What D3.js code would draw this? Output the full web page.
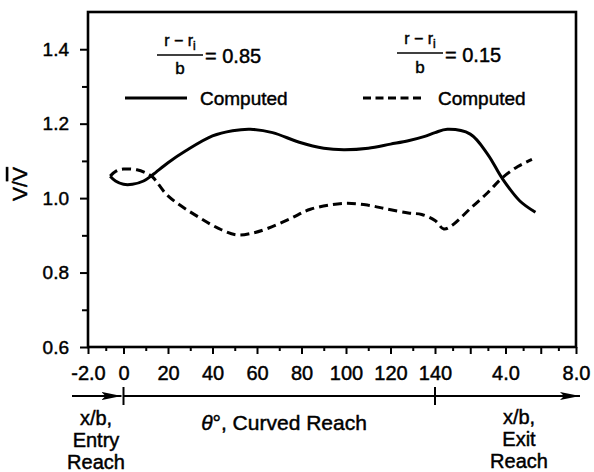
<!DOCTYPE html>
<html>
<head>
<meta charset="utf-8">
<script src="https://cdn.jsdelivr.net/npm/d3@7"></script>
<style>
  body { margin: 0; background: #fff; }
  svg { display: block; font-family: "Liberation Sans", Arial, sans-serif; }
  svg text { fill: #000; stroke: #000; stroke-width: 0.45px; }
  .tick text { font-family: "Liberation Sans", Arial, sans-serif; }
  .tick line { stroke: #000; stroke-width: 2; }
</style>
</head>
<body>
<div id="chart"></div>
<script>
// x/b in entry reach, theta (deg) in the curved reach, x/b in exit reach
const solidEntry = [[-0.75, 1.059], [-0.45, 1.046], [0, 1.037]];
const solidCurved = [[4, 1.037], [9, 1.046], [13, 1.062], [20, 1.095], [28, 1.127], [40, 1.167], [49, 1.181], [57, 1.185],
  [67, 1.176], [79, 1.150], [90, 1.134], [99, 1.130], [110, 1.134], [120, 1.145], [128, 1.154], [135, 1.165], [140, 1.176]];
const solidExit = [[0.7, 1.185], [2, 1.172], [3, 1.117], [3.8, 1.054], [4.8, 0.993], [5.7, 0.962]];

const dashEntry = [[-0.75, 1.059], [-0.4, 1.073], [0, 1.078]];
const dashCurved = [[6, 1.076], [10, 1.068], [13, 1.057], [20, 1.006], [34, 0.948], [44, 0.915], [51, 0.901], [58, 0.906],
  [65, 0.919], [75, 0.945], [84, 0.970], [99, 0.986], [110, 0.981], [118, 0.971], [128, 0.960], [134, 0.956], [140, 0.940]];
const dashExit = [[0.5, 0.917], [1, 0.928], [2, 0.972], [3, 1.015], [3.8, 1.054], [4.7, 1.085], [5.5, 1.104]];

const yMajor = [0.6, 0.8, 1.0, 1.2, 1.4];
const yMinor = [0.7, 0.9, 1.1, 1.3];
const entryMajor = [-2, 0], entryMinor = [-1];
const curvedMajor = [0, 20, 40, 60, 80, 100, 120, 140], curvedMinor = [10, 30, 50, 70, 90, 110, 130];
const exitMajor = [2, 4, 6, 8], exitMinor = [1, 3, 5, 7];
const exitLabels = { 4: "4.0", 8: "8.0" };

const W = 594, H = 472;
const M = { top: 12, left: 88, right: 576, bottom: 347 };

const svg = d3.select("#chart").append("svg").attr("width", W).attr("height", H);

const xEntry = d3.scaleLinear().domain([-2, 0]).range([M.left, 123.5]);
const xCurved = d3.scaleLinear().domain([0, 140]).range([123.5, 435]);
const xExit = d3.scaleLinear().domain([0, 8]).range([435, M.right]);
const y = d3.scaleLinear().domain([0.6, 1.5]).range([M.bottom, M.top]);

// axes
function xAxis(scale, vals, size, fmt) {
  const g = svg.append("g").attr("transform", `translate(0,${M.bottom})`)
    .call(d3.axisBottom(scale).tickValues(vals).tickSize(size).tickPadding(12).tickFormat(fmt));
  g.select(".domain").remove();
  g.selectAll("text").style("font-size", "20px");
  return g;
}
xAxis(xEntry, entryMajor.slice(0, 1), 7, (d) => d.toFixed(1));
xAxis(xEntry, entryMinor, 4, "");
xAxis(xCurved, curvedMajor, 7, (d) => d);
xAxis(xCurved, curvedMinor, 4, "");
xAxis(xExit, exitMajor, 7, (d) => exitLabels[d] || "");
xAxis(xExit, exitMinor, 4, "");

const gy = svg.append("g").attr("transform", `translate(${M.left},0)`)
  .call(d3.axisLeft(y).tickValues(yMajor).tickSize(8).tickPadding(11).tickFormat(d3.format(".1f")));
gy.select(".domain").remove();
gy.selectAll("text").style("font-size", "19px");
svg.append("g").attr("transform", `translate(${M.left},0)`)
  .call(d3.axisLeft(y).tickValues(yMinor).tickSize(6).tickFormat(""))
  .select(".domain").remove();

// frame
svg.append("rect").attr("x", M.left).attr("y", M.top)
  .attr("width", M.right - M.left).attr("height", M.bottom - M.top)
  .attr("fill", "none").attr("stroke", "#000").attr("stroke-width", 2.6);

// curves
function toPx(entry, curved, exit) {
  return entry.map((d) => [xEntry(d[0]), y(d[1])])
    .concat(curved.map((d) => [xCurved(d[0]), y(d[1])]))
    .concat(exit.map((d) => [xExit(d[0]), y(d[1])]));
}
const line = d3.line().curve(d3.curveCatmullRom.alpha(0.5));
svg.append("path").attr("d", line(toPx(solidEntry, solidCurved, solidExit)))
  .attr("fill", "none").attr("stroke", "#000").attr("stroke-width", 3);
svg.append("path").attr("d", line(toPx(dashEntry, dashCurved, dashExit)))
  .attr("fill", "none").attr("stroke", "#000").attr("stroke-width", 3).attr("stroke-dasharray", "9,5");

// legend
function fraction(cx, yNum, yBar, yDen, valX, valY, value) {
  const g = svg.append("g");
  const num = g.append("text").attr("x", cx).attr("y", yNum).attr("text-anchor", "middle").style("font-size", "16px");
  num.append("tspan").text("r \u2212 r");
  num.append("tspan").attr("dy", 4).style("font-size", "12px").text("i");
  g.append("line").attr("x1", cx - 23).attr("x2", cx + 23).attr("y1", yBar).attr("y2", yBar)
    .attr("stroke", "#000").attr("stroke-width", 1.6);
  g.append("text").attr("x", cx).attr("y", yDen).attr("text-anchor", "middle").style("font-size", "17px").text("b");
  g.append("text").attr("x", valX).attr("y", valY).style("font-size", "20px").text("= " + value);
}
fraction(180, 46, 55, 74, 205, 63, "0.85");
fraction(420, 44, 53, 73, 445, 62, "0.15");

svg.append("line").attr("x1", 125).attr("x2", 187).attr("y1", 98).attr("y2", 98)
  .attr("stroke", "#000").attr("stroke-width", 3);
svg.append("text").attr("x", 200).attr("y", 105).style("font-size", "19px").text("Computed");
svg.append("line").attr("x1", 363).attr("x2", 421).attr("y1", 98).attr("y2", 98)
  .attr("stroke", "#000").attr("stroke-width", 3).attr("stroke-dasharray", "8,4.5");
svg.append("text").attr("x", 438).attr("y", 105).style("font-size", "19px").text("Computed");

// y label
const yl = svg.append("text").attr("transform", "translate(27,184) rotate(-90)")
  .attr("text-anchor", "middle").style("font-size", "21px");
yl.append("tspan").text("V/");
yl.append("tspan").style("text-decoration", "overline").text("V");

// reach annotation
const defs = svg.append("defs");
defs.append("marker").attr("id", "arr").attr("viewBox", "0 0 20 8").attr("refX", 20).attr("refY", 4)
  .attr("markerWidth", 20).attr("markerHeight", 8).attr("markerUnits", "userSpaceOnUse").attr("orient", "auto")
  .append("path").attr("d", "M0,0 L20,4 L0,8 L4,4 Z").attr("fill", "#000");
const yArr = 396;
svg.append("line").attr("x1", 72).attr("x2", xEntry(0) - 2).attr("y1", yArr).attr("y2", yArr)
  .attr("stroke", "#000").attr("stroke-width", 2).attr("marker-end", "url(#arr)");
svg.append("line").attr("x1", xEntry(0)).attr("x2", 580).attr("y1", yArr).attr("y2", yArr)
  .attr("stroke", "#000").attr("stroke-width", 2).attr("marker-end", "url(#arr)");
[xEntry(0), xCurved(140)].forEach((x) => {
  svg.append("line").attr("x1", x).attr("x2", x).attr("y1", yArr - 9).attr("y2", yArr + 9)
    .attr("stroke", "#000").attr("stroke-width", 2);
});

function block(cx, y0, lines) {
  lines.forEach((t, i) => {
    svg.append("text").attr("x", cx).attr("y", y0 + i * 22).attr("text-anchor", "middle")
      .style("font-size", "20px").text(t);
  });
}
block(96, 425, ["x/b,", "Entry", "Reach"]);
block(519, 424, ["x/b,", "Exit", "Reach"]);

const ct = svg.append("text").attr("x", 284).attr("y", 430).attr("text-anchor", "middle").style("font-size", "21px");
ct.append("tspan").style("font-style", "italic").text("\u03B8");
ct.append("tspan").text("\u00B0, Curved Reach");
</script>
</body>
</html>
